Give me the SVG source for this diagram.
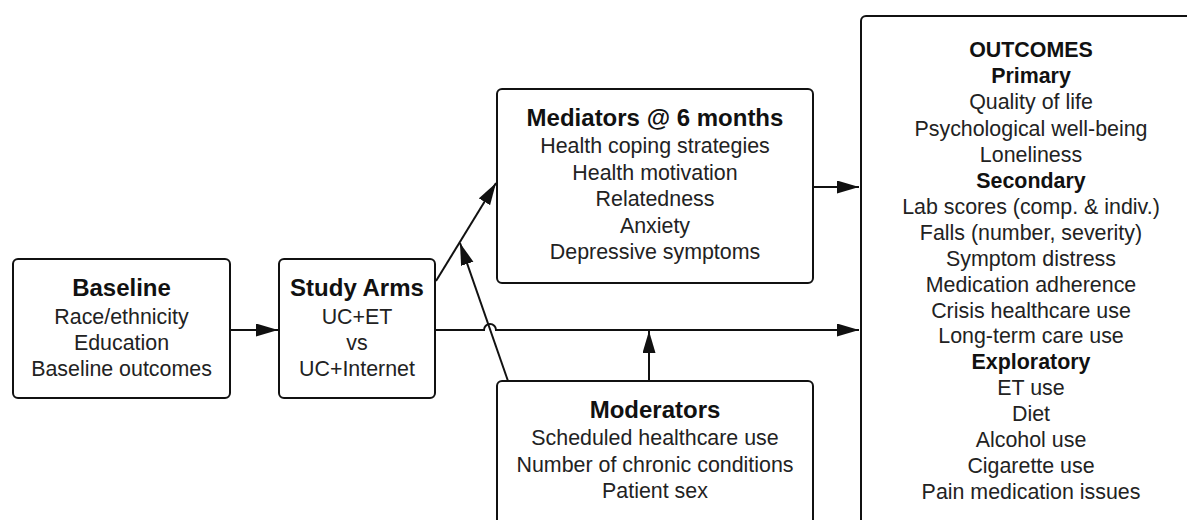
<svg xmlns="http://www.w3.org/2000/svg" width="1187" height="520" viewBox="0 0 1187 520">
  <style>
    .box { fill: #ffffff; stroke: #111111; stroke-width: 2; }
    .t { font-family: "Liberation Sans", Arial, sans-serif; font-size: 21.4px; fill: #222222; text-anchor: middle; }
    .h { font-family: "Liberation Sans", Arial, sans-serif; font-size: 24px; font-weight: bold; fill: #111111; text-anchor: middle; }
    .hs { font-family: "Liberation Sans", Arial, sans-serif; font-size: 21.4px; font-weight: bold; fill: #111111; text-anchor: middle; }
    .c { fill: none; stroke: #111111; stroke-width: 2; }
  </style>
  <defs>
    <marker id="arr" markerUnits="userSpaceOnUse" markerWidth="24" markerHeight="14" refX="22" refY="6.5" orient="auto">
      <path d="M0,0 L22,6.5 L0,13 z" fill="#111111"/>
    </marker>
  </defs>
  <rect width="1187" height="520" fill="#ffffff"/>

  <g id="connectors">
    <line class="c" x1="230" y1="330" x2="278" y2="330" marker-end="url(#arr)"/>
    <path class="c" d="M435,330 H484 A6,6 0 0 1 496,330 H859" marker-end="url(#arr)"/>
    <line class="c" x1="813" y1="187" x2="859" y2="187" marker-end="url(#arr)"/>
    <line class="c" x1="436" y1="281" x2="496" y2="183" marker-end="url(#arr)"/>
    <line class="c" x1="508" y1="381" x2="460" y2="243" marker-end="url(#arr)"/>
    <line class="c" x1="649" y1="381" x2="649" y2="331" marker-end="url(#arr)"/>
  </g>

  <g id="baseline">
    <rect class="box" x="13" y="259" width="217" height="139" rx="5"/>
    <text class="h" x="121.5" y="296">Baseline</text>
    <text class="t" x="121.5" y="324">Race/ethnicity</text>
    <text class="t" x="121.5" y="350">Education</text>
    <text class="t" x="121.5" y="376">Baseline outcomes</text>
  </g>

  <g id="study-arms">
    <rect class="box" x="279" y="259" width="156" height="139" rx="5"/>
    <text class="h" x="357" y="296">Study Arms</text>
    <text class="t" x="357" y="324">UC+ET</text>
    <text class="t" x="357" y="350">vs</text>
    <text class="t" x="357" y="376">UC+Internet</text>
  </g>

  <g id="mediators">
    <rect class="box" x="497" y="89" width="316" height="194" rx="5"/>
    <text class="h" x="655" y="126">Mediators @ 6 months</text>
    <text class="t" x="655" y="153">Health coping strategies</text>
    <text class="t" x="655" y="179.5">Health motivation</text>
    <text class="t" x="655" y="206">Relatedness</text>
    <text class="t" x="655" y="232.5">Anxiety</text>
    <text class="t" x="655" y="259">Depressive symptoms</text>
  </g>

  <g id="moderators">
    <rect class="box" x="497" y="381" width="316" height="160" rx="5"/>
    <text class="h" x="655" y="418">Moderators</text>
    <text class="t" x="655" y="445">Scheduled healthcare use</text>
    <text class="t" x="655" y="471.5">Number of chronic conditions</text>
    <text class="t" x="655" y="498">Patient sex</text>
  </g>

  <g id="outcomes">
    <rect class="box" x="861" y="16" width="345" height="530" rx="5"/>
    <text class="hs" x="1031" y="57">OUTCOMES</text>
    <text class="hs" x="1031" y="83">Primary</text>
    <text class="t" x="1031" y="109">Quality of life</text>
    <text class="t" x="1031" y="135.5">Psychological well-being</text>
    <text class="t" x="1031" y="161.5">Loneliness</text>
    <text class="hs" x="1031" y="187.5">Secondary</text>
    <text class="t" x="1031" y="213.5">Lab scores (comp. &amp; indiv.)</text>
    <text class="t" x="1031" y="239.5">Falls (number, severity)</text>
    <text class="t" x="1031" y="265.5">Symptom distress</text>
    <text class="t" x="1031" y="291.5">Medication adherence</text>
    <text class="t" x="1031" y="317.5">Crisis healthcare use</text>
    <text class="t" x="1031" y="343">Long-term care use</text>
    <text class="hs" x="1031" y="369">Exploratory</text>
    <text class="t" x="1031" y="395">ET use</text>
    <text class="t" x="1031" y="421">Diet</text>
    <text class="t" x="1031" y="446.5">Alcohol use</text>
    <text class="t" x="1031" y="472.5">Cigarette use</text>
    <text class="t" x="1031" y="498.5">Pain medication issues</text>
  </g>
</svg>
